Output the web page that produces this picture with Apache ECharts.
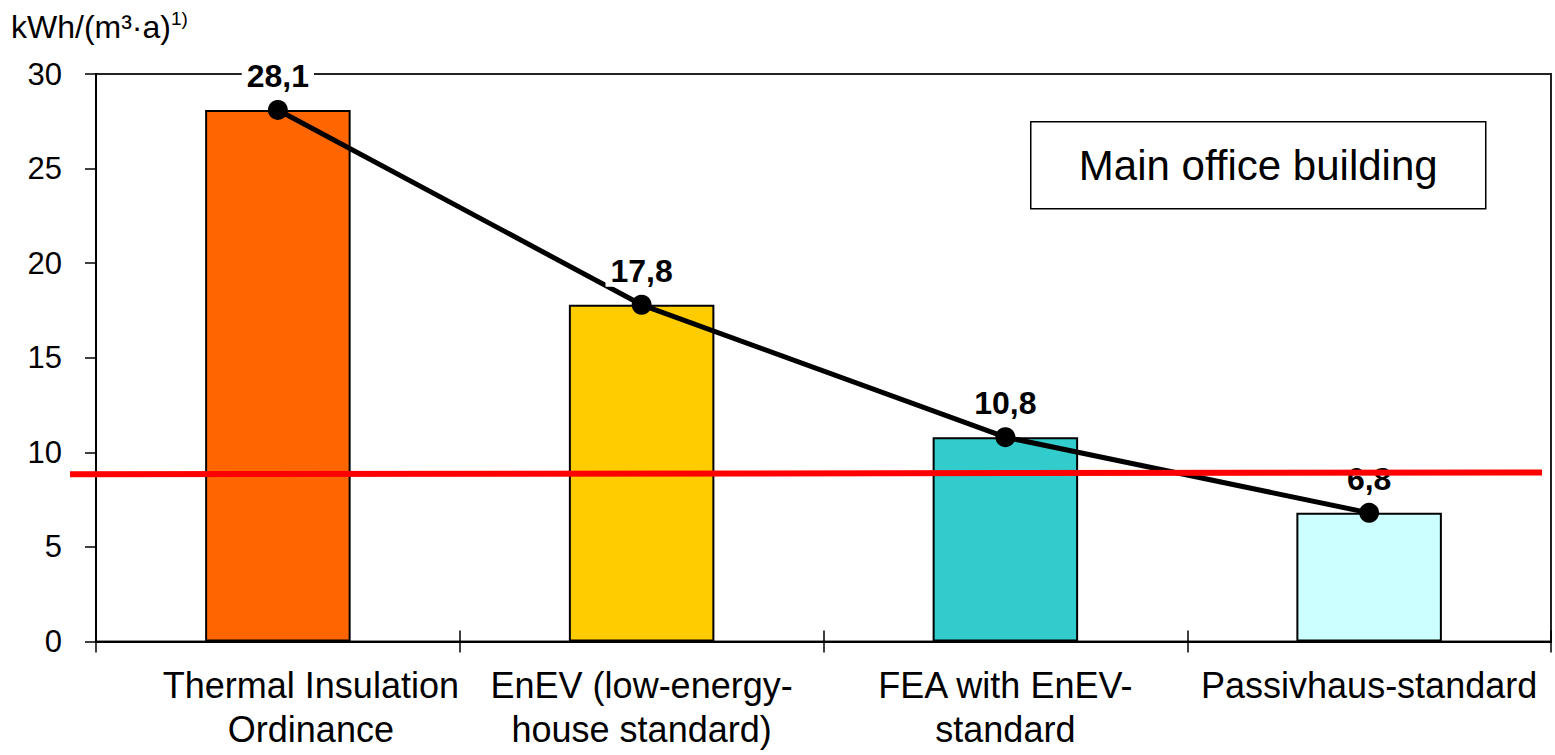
<!DOCTYPE html>
<html>
<head>
<meta charset="utf-8">
<script src="https://cdn.jsdelivr.net/npm/echarts@6/dist/echarts.min.js"></script>
<style>
  html, body { margin: 0; padding: 0; background: #fff; }
  #chart { width: 1555px; height: 755px; }
</style>
</head>
<body>
<div id="chart"></div>
<script>
// Annual heating demand per standard
const categories = [
  'Thermal Insulation\nOrdinance',
  'EnEV (low-energy-\nhouse standard)',
  'FEA with EnEV-\nstandard',
  'Passivhaus-standard'
];
const demand = [28.1, 17.8, 10.8, 6.8];
const barColors = ['#FF6600', '#FFCC00', '#33CCCC', '#CCFFFF'];
// Red reference line: value at its left end and at its right end
const limitLine = [8.84, 8.94];
const yMin = 0, yMax = 30, yStep = 5;
const unitText = 'kWh/(m³·a)';
const unitNote = '1)';
const boxTitle = 'Main office building';

const FONT = '"Liberation Sans", Arial, sans-serif';
const fmt = v => String(v).replace('.', ',');

const chart = echarts.init(document.getElementById('chart'), null, { renderer: 'svg' });

chart.setOption({
  backgroundColor: '#fff',
  animation: false,
  textStyle: { fontFamily: FONT, color: '#000' },
  title: {
    left: 11, top: 9, padding: 0,
    text: '{u|' + unitText + '}{s|' + unitNote + '}',
    textStyle: {
      fontWeight: 'normal',
      rich: {
        u: { fontSize: 32, fontWeight: 'normal', fontFamily: FONT, color: '#000', lineHeight: 36 },
        s: { fontSize: 19, fontWeight: 'normal', fontFamily: FONT, color: '#000', verticalAlign: 'top', lineHeight: 22 }
      }
    }
  },
  grid: [
    { left: 96, right: 4, top: 74, bottom: 113.5, show: true, borderColor: '#222', borderWidth: 2, backgroundColor: 'transparent' },
    { left: 70, right: 13, top: 74, bottom: 113.5, show: false }
  ],
  xAxis: [
    {
      type: 'category', gridIndex: 0, position: 'bottom',
      data: categories.map((c, i) => i === 0 ? { value: c, textStyle: { padding: [0, 0, 0, 66] } } : c),
      axisLine: { lineStyle: { color: '#000', width: 2 } },
      axisTick: { show: true, length: 11, interval: 0, lineStyle: { color: '#000', width: 1.5 } },
      axisLabel: { interval: 0, fontSize: 36, lineHeight: 44, color: '#000', fontFamily: FONT, margin: 22 },
      splitLine: { show: false }
    },
    {
      // inner half of the crossing category ticks
      type: 'category', gridIndex: 0, position: 'bottom', data: categories,
      axisLine: { show: false },
      axisTick: { show: true, inside: true, length: 11, interval: 0, lineStyle: { color: '#000', width: 1.5 } },
      axisLabel: { show: false },
      splitLine: { show: false }
    },
    { type: 'value', gridIndex: 1, min: 0, max: 1, show: false }
  ],
  yAxis: [
    {
      type: 'value', gridIndex: 0, min: yMin, max: yMax, interval: yStep,
      axisLine: { show: true, lineStyle: { color: '#000', width: 2 } },
      axisTick: { show: true, length: 11, lineStyle: { color: '#000', width: 1.5 } },
      axisLabel: { fontSize: 31, color: '#000', fontFamily: FONT, margin: 34 },
      splitLine: { show: false }
    },
    { type: 'value', gridIndex: 1, min: yMin, max: yMax, show: false }
  ],
  graphic: [
    {
      type: 'group', left: 1030, top: 121, z: 10,
      children: [
        { type: 'rect', shape: { x: 0, y: 0, width: 455, height: 87 }, style: { fill: '#fff', stroke: '#000', lineWidth: 1.5 } },
        { type: 'text', x: 227.5, y: 44, style: { text: boxTitle, fontSize: 42, fontFamily: FONT, fill: '#000', align: 'center', verticalAlign: 'middle' } }
      ]
    }
  ],
  series: [
    {
      type: 'bar', xAxisIndex: 0, yAxisIndex: 0, z: 2,
      barWidth: '40%',
      data: demand.map((v, i) => ({ value: v, itemStyle: { color: barColors[i] } })),
      itemStyle: { borderColor: '#000', borderWidth: 2 }
    },
    {
      type: 'line', xAxisIndex: 0, yAxisIndex: 0, z: 3,
      data: demand.map((v, i) => i === demand.length - 1
        ? { value: v, label: { backgroundColor: 'transparent' } }
        : v),
      symbol: 'circle', symbolSize: 20,
      itemStyle: { color: '#000' },
      lineStyle: { color: '#000', width: 5 },
      label: {
        show: true, position: 'top', distance: 8,
        formatter: p => fmt(p.value),
        fontSize: 32, fontWeight: 'bold', color: '#000', fontFamily: FONT,
        backgroundColor: '#fff', padding: [0, 5, 0, 5]
      }
    },
    {
      type: 'line', xAxisIndex: 2, yAxisIndex: 1, z: 5,
      data: [[0, limitLine[0]], [1, limitLine[1]]],
      symbol: 'none', silent: true,
      lineStyle: { color: '#FF0000', width: 6 }
    }
  ]
});
</script>
</body>
</html>
